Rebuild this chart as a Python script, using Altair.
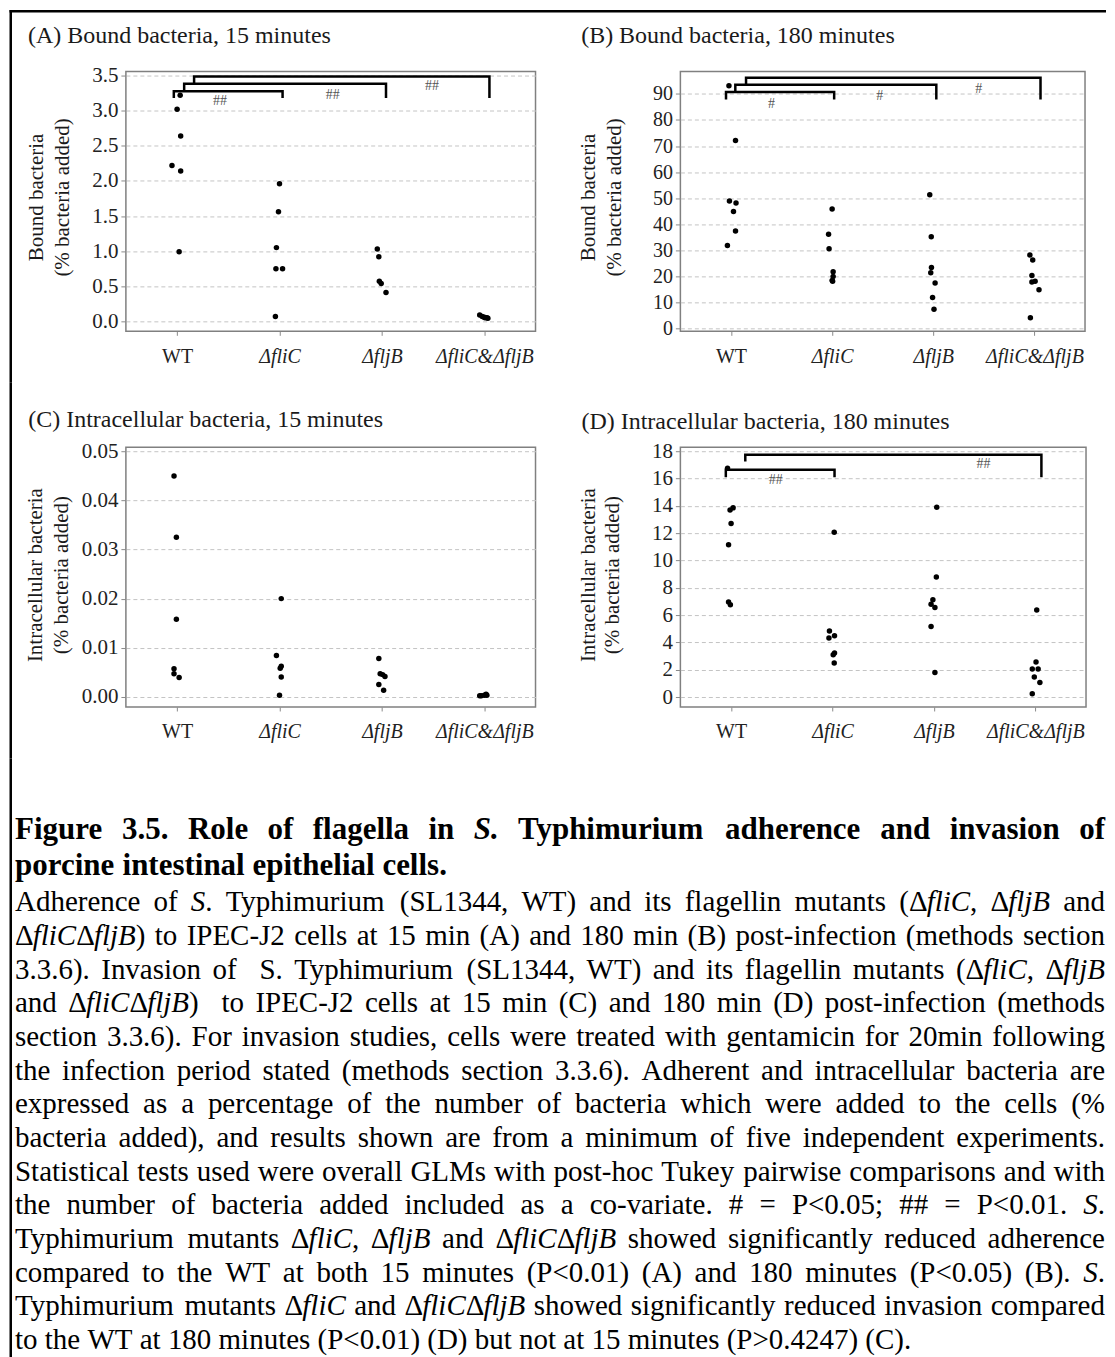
import json
import altair as alt
import pandas as pd

FONT = "Liberation Serif"
GROUP_LABELS = ["WT", "ΔfliC", "ΔfljB", "ΔfliC&ΔfljB"]

# ---------------- (A) Bound bacteria, 15 minutes ----------------
A_VALUES = [
    [3.22, 3.02, 2.64, 2.22, 2.14, 0.99],
    [1.96, 1.56, 1.05, 0.75, 0.75, 0.07],
    [1.03, 0.92, 0.57, 0.54, 0.41],
    [0.09, 0.07, 0.06, 0.05, 0.05, 0.045],
]
A_JITTER = [
    [0.03, 0.0, 0.035, -0.05, 0.035, 0.02],
    [0.0, -0.01, -0.03, -0.035, 0.03, -0.04],
    [-0.045, -0.03, -0.025, -0.007, 0.04],
    [-0.045, -0.02, 0.0, 0.025, 0.007, 0.035],
]
A_BR_X1 = [0.968, 1.069, 1.166]
A_BR_X2 = [2.03, 3.04, 4.05]
A_BR_YH = [3.276, 3.382, 3.486]
A_BR_YL = [3.182, 3.276, 3.382]
A_BR_YR = [3.182, 3.182, 3.182]
A_SIG_X = [1.42, 2.52, 3.49]
A_SIG_Y = [3.144, 3.225, 3.357]

# ---------------- (B) Bound bacteria, 180 minutes ----------------
B_VALUES = [
    [93.1, 72.1, 48.9, 48.2, 44.9, 37.4, 31.9],
    [45.9, 36.2, 30.6, 21.8, 20.0, 18.5, 18.2],
    [51.3, 35.2, 23.4, 21.4, 17.5, 11.9, 7.4],
    [28.2, 26.3, 20.4, 18.2, 17.9, 14.9, 4.2],
]
B_JITTER = [
    [-0.02, 0.045, -0.015, 0.05, 0.025, 0.045, -0.035],
    [0.0, -0.035, -0.03, 0.01, 0.01, 0.0, 0.005],
    [-0.035, -0.02, -0.018, -0.025, 0.018, -0.007, 0.007],
    [-0.045, -0.017, -0.025, 0.007, -0.025, 0.045, -0.04],
]
B_BR_X1 = [0.951, 1.043, 1.149]
B_BR_X2 = [2.02, 3.03, 4.06]
B_BR_YH = [90.7, 93.5, 96.2]
B_BR_YL = [87.8, 90.7, 93.5]
B_BR_YR = [87.8, 87.8, 87.8]
B_SIG_X = [1.40, 2.47, 3.45]
B_SIG_Y = [86.2, 89.3, 91.9]

# ---------------- (C) Intracellular bacteria, 15 minutes ----------------
C_VALUES = [
    [0.045, 0.0325, 0.0158, 0.0057, 0.0047, 0.0039],
    [0.020, 0.0084, 0.0062, 0.0058, 0.0040, 0.0003],
    [0.0078, 0.0047, 0.0045, 0.0041, 0.0025, 0.0013],
    [0.0005, 0.0003, 0.0002, 0.0002, 0.0003],
]
C_JITTER = [
    [-0.03, -0.007, -0.007, -0.03, -0.03, 0.02],
    [0.017, -0.03, 0.017, 0.007, 0.017, 0.0],
    [-0.03, -0.017, 0.007, 0.03, -0.03, 0.017],
    [0.017, 0.0, -0.03, -0.045, 0.025],
]

# ---------------- (D) Intracellular bacteria, 180 minutes ----------------
D_VALUES = [
    [16.76, 13.85, 13.7, 12.7, 11.15, 6.95, 6.76],
    [12.07, 4.83, 4.49, 4.32, 3.22, 3.1, 2.49],
    [13.9, 8.78, 7.12, 6.8, 6.56, 5.17, 1.8],
    [6.37, 2.56, 2.05, 2.05, 1.46, 1.07, 0.24],
]
D_JITTER = [
    [-0.035, 0.02, -0.01, 0.0, -0.025, -0.025, -0.007],
    [0.017, -0.03, 0.02, -0.035, 0.02, 0.007, 0.017],
    [0.028, 0.024, -0.01, -0.028, 0.01, -0.028, 0.01],
    [0.014, 0.007, -0.03, 0.028, -0.01, 0.045, -0.03],
]
D_BR_X1 = [0.948, 1.14]
D_BR_X2 = [2.02, 4.06]
D_BR_YH = [16.64, 17.74]
D_BR_YL = [16.1, 17.25]
D_BR_YR = [16.1, 16.1]
D_SIG_X = [1.44, 3.49]
D_SIG_Y = [15.9, 17.03]

# ---------------- Caption text ----------------
CAPTION_TITLE = [
    "Figure 3.5. Role of flagella in _S._ Typhimurium adherence and invasion of",
    "porcine intestinal epithelial cells.",
]
CAPTION_BODY = [
    "Adherence of _S_. Typhimurium (SL1344, WT) and its flagellin mutants (Δ_fliC_, Δ_fljB_ and",
    "Δ_fliC_Δ_fljB_) to IPEC-J2 cells at 15 min (A) and 180 min (B) post-infection (methods section",
    "3.3.6). Invasion of  S. Typhimurium (SL1344, WT) and its flagellin mutants (Δ_fliC_, Δ_fljB_",
    "and Δ_fliC_Δ_fljB_)  to IPEC-J2 cells at 15 min (C) and 180 min (D) post-infection (methods",
    "section 3.3.6). For invasion studies, cells were treated with gentamicin for 20min following",
    "the infection period stated (methods section 3.3.6). Adherent and intracellular bacteria are",
    "expressed as a percentage of the number of bacteria which were added to the cells (%",
    "bacteria added), and results shown are from a minimum of five independent experiments.",
    "Statistical tests used were overall GLMs with post-hoc Tukey pairwise comparisons and with",
    "the number of bacteria added included as a co-variate. # = P<0.05; ## = P<0.01. _S_.",
    "Typhimurium mutants Δ_fliC_, Δ_fljB_ and Δ_fliC_Δ_fljB_ showed significantly reduced adherence",
    "compared to the WT at both 15 minutes (P<0.01) (A) and 180 minutes (P<0.05) (B). _S_.",
    "Typhimurium mutants Δ_fliC_ and Δ_fliC_Δ_fljB_ showed significantly reduced invasion compared",
    "to the WT at 180 minutes (P<0.01) (D) but not at 15 minutes (P>0.4247) (C).",
]

# ---------------- font metrics (Times-compatible, per 1000 em) ----------------
R = {' ': 250, '!': 333, '#': 500, '%': 833, '&': 778, '(': 333, ')': 333, ',': 250,
     '-': 333, '.': 250, ':': 278, ';': 278, '<': 564, '=': 564, '>': 564,
     'A': 722, 'B': 667, 'C': 667, 'D': 722, 'E': 611, 'F': 556, 'G': 722, 'H': 722,
     'I': 333, 'J': 389, 'K': 722, 'L': 611, 'M': 889, 'N': 722, 'O': 722, 'P': 556,
     'Q': 722, 'R': 667, 'S': 556, 'T': 611, 'U': 722, 'V': 722, 'W': 944, 'X': 722,
     'Y': 722, 'Z': 611, 'a': 444, 'b': 500, 'c': 444, 'd': 500, 'e': 444, 'f': 333,
     'g': 500, 'h': 500, 'i': 278, 'j': 278, 'k': 500, 'l': 278, 'm': 778, 'n': 500,
     'o': 500, 'p': 500, 'q': 500, 'r': 333, 's': 389, 't': 278, 'u': 500, 'v': 500,
     'w': 722, 'x': 500, 'y': 500, 'z': 444, 'Δ': 612}
for _d in "0123456789":
    R[_d] = 500
I = {'f': 278, 'l': 278, 'i': 278, 'C': 667, 'j': 278, 'B': 611, 'S': 500, '.': 250, 'Δ': 612}
B = {' ': 250, '.': 250, '3': 500, '5': 500, 'F': 611, 'R': 722, 'T': 667,
     'a': 500, 'c': 444, 'd': 556, 'e': 444, 'f': 333, 'g': 500, 'h': 556, 'i': 278,
     'l': 278, 'm': 833, 'n': 556, 'o': 500, 'p': 556, 'r': 444, 's': 389, 't': 333,
     'u': 556, 'v': 500, 'y': 500}
BI = {'S': 556, '.': 250}


def text_width(s, italic, bold, size):
    table = (BI if italic else B) if bold else (I if italic else R)
    return sum(table.get(ch, R.get(ch, 500)) for ch in s) * size / 1000.0


def layout_line(line, baseline, size, bold, justify, left, right):
    segs = line.split("_")
    words = [[]]
    for k, seg in enumerate(segs):
        it = (k % 2 == 1)
        parts = seg.split(" ")
        for j, p in enumerate(parts):
            if j > 0:
                words.append([])
            if p:
                words[-1].append((p, it))
    widths = [sum(text_width(t, it, bold, size) for t, it in w) for w in words]
    gaps = len(words) - 1
    if justify and gaps > 0:
        gap = (right - left - sum(widths)) / gaps
    else:
        gap = text_width(" ", False, bold, size)
    recs = []
    x = left
    for w, wd in zip(words, widths):
        cx = x
        for t, it in w:
            style = ("b" if bold else "") + ("i" if it else "r")
            recs.append({"x": cx, "y": baseline, "text": t, "style": style})
            cx += text_width(t, it, bold, size)
        x += wd + gap
    return recs


LEFT, RIGHT = 7.0, 1098.0
recs = []
title_base = [831.0, 867.0]
for k, line in enumerate(CAPTION_TITLE):
    recs += layout_line(line, title_base[k], 31, True, k < len(CAPTION_TITLE) - 1, LEFT, RIGHT)
for k, line in enumerate(CAPTION_BODY):
    recs += layout_line(line, 903.5 + 33.7 * k, 29, False, k < len(CAPTION_BODY) - 1, LEFT, RIGHT)
capdf = pd.DataFrame(recs)

label_expr = "[" + ",".join(json.dumps(g) for g in GROUP_LABELS) + "][datum.value - 1]"
ONE = pd.DataFrame({"t": [""]})


def frame_rect(x1, x2, y1, y2):
    return alt.Chart(ONE).mark_rect(color="black").encode(
        x=alt.value(x1), x2=alt.value(x2), y=alt.value(y1), y2=alt.value(y2))


def make_panel(values, jitter, ydom, yvals, yfmt, w, h, title, tpos, ytitle, ytx, yty,
               br=None, sig=None, sigtext="##", ylabsize=21, borders=()):
    pts = pd.DataFrame([{"x": gi + 1 + j, "y": v}
                        for gi, (vs, js) in enumerate(zip(values, jitter))
                        for v, j in zip(vs, js)])
    xs = alt.Scale(domain=[0.5, 4.5], nice=False, zero=False)
    ys = alt.Scale(domain=ydom, nice=False, zero=False)
    xaxis = alt.Axis(values=[1, 2, 3, 4], labelExpr=label_expr, title=None, grid=False,
                     domain=False, ticks=True, tickSize=4, tickColor="#8a8a8a",
                     labelFont=FONT, labelFontSize=20, labelColor="#222222",
                     labelBaseline="alphabetic", labelPadding=27, labelOverlap=False,
                     labelFlush=False, labelBound=False,
                     labelFontStyle={"condition": {"test": "datum.value == 1", "value": "normal"},
                                     "value": "italic"})
    yaxis = alt.Axis(values=yvals, format=yfmt, title=None, grid=True, gridDash=[4, 3],
                     gridColor="#c4c4c4", gridWidth=1, domain=False, tickSize=5,
                     tickColor="#8a8a8a", labelFont=FONT, labelFontSize=ylabsize,
                     labelColor="#222222", labelPadding=3, labelFlush=False,
                     labelOverlap=False)
    X = alt.X("x:Q", scale=xs, axis=xaxis)
    Y = alt.Y("y:Q", scale=ys, axis=yaxis)
    layers = [alt.Chart(pts).mark_circle(size=30, color="black", opacity=1).encode(x=X, y=Y)]
    if br is not None:
        x1, x2, yh, yl, yr = br
        rows = []
        for i in range(len(x1)):
            rows += [{"id": i, "ord": 0, "x": x1[i], "y": yl[i]},
                     {"id": i, "ord": 1, "x": x1[i], "y": yh[i]},
                     {"id": i, "ord": 2, "x": x2[i], "y": yh[i]},
                     {"id": i, "ord": 3, "x": x2[i], "y": yr[i]}]
        layers.append(alt.Chart(pd.DataFrame(rows)).mark_line(
            color="black", strokeWidth=2.5, strokeJoin="miter", strokeCap="butt").encode(
            x=X, y=Y, detail="id:N", order="ord:Q"))
    if sig is not None:
        sx, sy = sig
        sdf = pd.DataFrame({"x": sx, "y": sy, "t": [sigtext] * len(sx)})
        layers.append(alt.Chart(sdf).mark_text(font=FONT, fontSize=14, color="#555555",
                                               align="center", baseline="middle").encode(
            x=X, y=Y, text="t:N"))
    layers.append(alt.Chart(ONE).mark_text(text=title, font=FONT, fontSize=24, color="#1a1a1a",
                                           align="left", baseline="alphabetic").encode(
        x=alt.value(tpos[0]), y=alt.value(tpos[1])))
    for k, txt in enumerate(ytitle):
        layers.append(alt.Chart(ONE).mark_text(
            text=txt, font=FONT, fontSize=21, color="#1a1a1a", align="center",
            baseline="middle", angle=270).encode(x=alt.value(ytx[k]), y=alt.value(yty)))
    for b in borders:
        layers.append(frame_rect(*b))
    return alt.layer(*layers).properties(width=w, height=h)


# page-pixel geometry (svg coords = page - 8): A/C plots start at x=118, rows at y=63 / 439
pA = make_panel(A_VALUES, A_JITTER, [-0.142, 3.557], [0, 0.5, 1, 1.5, 2, 2.5, 3, 3.5], ".1f",
                410, 260, "(A) Bound bacteria, 15 minutes", (-98, -28.7),
                ["Bound bacteria", "(% bacteria added)"], [-88.5, -62.5], 126,
                br=(A_BR_X1, A_BR_X2, A_BR_YH, A_BR_YL, A_BR_YR), sig=(A_SIG_X, A_SIG_Y),
                sigtext="##",
                borders=[(-116.5, 981, -61.5, -59), (-116.5, -114, -61.5, 311.5)])
pB = make_panel(B_VALUES, B_JITTER, [-1.03, 98.54], list(range(0, 100, 10)), "d",
                405, 260, "(B) Bound bacteria, 180 minutes", (-99.3, -28.7),
                ["Bound bacteria", "(% bacteria added)"], [-91, -65], 126,
                br=(B_BR_X1, B_BR_X2, B_BR_YH, B_BR_YL, B_BR_YR), sig=(B_SIG_X, B_SIG_Y),
                sigtext="#", ylabsize=20)
pC = make_panel(C_VALUES, C_JITTER, [-0.0021, 0.05088], [0, 0.01, 0.02, 0.03, 0.04, 0.05], ".2f",
                410, 260, "(C) Intracellular bacteria, 15 minutes", (-97.7, -20),
                ["Intracellular bacteria", "(% bacteria added)"], [-90, -63.5], 128,
                borders=[(-116.5, -114, -64.5, 311.5)])
pD = make_panel(D_VALUES, D_JITTER, [-0.73, 18.29], list(range(0, 20, 2)), "d",
                406, 260, "(D) Intracellular bacteria, 180 minutes", (-99, -18.4),
                ["Intracellular bacteria", "(% bacteria added)"], [-91, -67], 128,
                br=(D_BR_X1, D_BR_X2, D_BR_YH, D_BR_YL, D_BR_YR), sig=(D_SIG_X, D_SIG_Y),
                sigtext="##")

# caption chart: data coordinates are page pixels minus the 8px margin
capx = alt.Scale(domain=[0, 1000], range=[-118, 882], nice=False, zero=False)
capy = alt.Scale(domain=[0, 1000], range=[-752, 248], nice=False, zero=False)


def cap_layer(style, size, weight, fstyle):
    return alt.Chart(capdf).transform_filter(alt.datum.style == style).mark_text(
        font=FONT, fontSize=size, fontWeight=weight, fontStyle=fstyle, align="left",
        baseline="alphabetic", color="black").encode(
        x=alt.X("x:Q", scale=capx, axis=None), y=alt.Y("y:Q", scale=capy, axis=None),
        text="text:N")


border = pd.DataFrame({"x": [1.5], "x2": [4.0], "y": [750.5], "y2": [1357.0]})
border_layer = alt.Chart(border).mark_rect(color="black").encode(
    x=alt.X("x:Q", scale=capx, axis=None), x2="x2:Q",
    y=alt.Y("y:Q", scale=capy, axis=None), y2="y2:Q")

caption = alt.layer(
    border_layer,
    cap_layer("r", 29, "normal", "normal"),
    cap_layer("i", 29, "normal", "italic"),
    cap_layer("br", 31, "bold", "normal"),
    cap_layer("bi", 31, "bold", "italic"),
).properties(width=981, height=500, view=alt.ViewBackground(stroke="transparent"))

row1 = alt.hconcat(pA, pB, spacing=145, bounds="flush")
row2 = alt.hconcat(pC, pD, spacing=145, bounds="flush")
chart = alt.vconcat(row1, row2, caption, spacing=-3, bounds="full").properties(
    padding=0, background="white"
).configure_view(stroke="#808080", strokeWidth=1.5)

chart.save("out.html", embed_options={"renderer": "svg", "actions": False})
